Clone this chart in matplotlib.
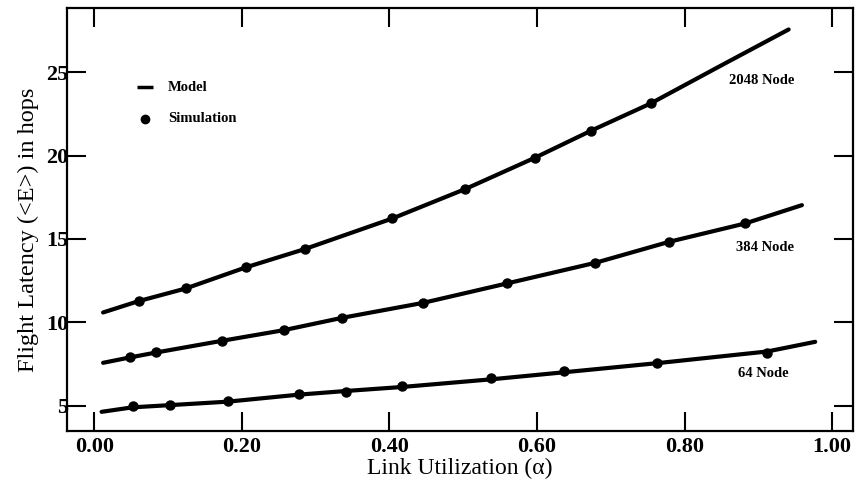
import numpy as np
import matplotlib
matplotlib.use('Agg')
import matplotlib.pyplot as plt

plt.rcParams['font.family'] = ['Liberation Serif', 'DejaVu Serif']

# Simulation results (link utilization, flight latency in hops)
sim_2048_x = [0.060, 0.124, 0.205, 0.285, 0.404, 0.503, 0.597, 0.673, 0.754]
sim_2048_y = [11.27, 12.03, 13.29, 14.39, 16.23, 18.00, 19.87, 21.49, 23.13]
sim_384_x = [0.048, 0.084, 0.173, 0.257, 0.336, 0.446, 0.559, 0.679, 0.779, 0.882]
sim_384_y = [7.89, 8.19, 8.89, 9.53, 10.27, 11.17, 12.33, 13.57, 14.83, 15.93]
sim_64_x = [0.052, 0.102, 0.181, 0.277, 0.341, 0.417, 0.538, 0.636, 0.763, 0.912]
sim_64_y = [4.99, 5.01, 5.29, 5.69, 5.83, 6.17, 6.63, 7.07, 7.53, 8.17]

# Analytical model curves
model_2048_x = [0.012, 0.060, 0.124, 0.205, 0.285, 0.404, 0.503, 0.597, 0.673, 0.754, 0.850, 0.941]
model_2048_y = [10.59, 11.27, 12.03, 13.29, 14.39, 16.23, 18.00, 19.87, 21.49, 23.13, 25.42, 27.57]
model_384_x = [0.012, 0.048, 0.084, 0.173, 0.257, 0.336, 0.446, 0.559, 0.679, 0.779, 0.882, 0.959]
model_384_y = [7.57, 7.89, 8.19, 8.89, 9.53, 10.27, 11.17, 12.33, 13.57, 14.83, 15.93, 17.03]
model_64_x = [0.010, 0.052, 0.102, 0.181, 0.277, 0.341, 0.417, 0.538, 0.636, 0.763, 0.912, 0.977]
model_64_y = [4.63, 4.90, 5.03, 5.24, 5.66, 5.88, 6.12, 6.58, 7.00, 7.55, 8.25, 8.83]

curve_labels = ['2048 Node', '384 Node', '64 Node']
label_x = [0.904, 0.909, 0.907]
label_y = [24.5, 14.5, 6.95]

x_ticks = [0.0, 0.2, 0.4, 0.6, 0.8, 1.0]
x_tick_labels = ['0.00', '0.20', '0.40', '0.60', '0.80', '1.00']
y_ticks = [5, 10, 15, 20, 25]

fig = plt.figure(figsize=(8.58, 4.87), dpi=100)
ax = fig.add_axes([0.078, 0.115, 0.916, 0.869])

for mx, my in [(model_2048_x, model_2048_y), (model_384_x, model_384_y), (model_64_x, model_64_y)]:
    ax.plot(mx, my, color='black', lw=3.0, solid_capstyle='round', solid_joinstyle='round')
for sx, sy in [(sim_2048_x, sim_2048_y), (sim_384_x, sim_384_y), (sim_64_x, sim_64_y)]:
    ax.plot(sx, sy, 'o', color='black', ms=6.5)

for name, lx, ly in zip(curve_labels, label_x, label_y):
    ax.text(lx, ly, name, fontsize=10.5, fontweight='bold', ha='center', va='center')

# legend drawn by hand
ax.plot([0.058, 0.080], [24.1, 24.1], color='black', lw=2.5, solid_capstyle='butt')
ax.plot([0.069], [22.2], 'o', color='black', ms=6)
ax.text(0.100, 24.1, 'Model', fontsize=10.5, fontweight='bold', va='center')
ax.text(0.100, 22.2, 'Simulation', fontsize=10.5, fontweight='bold', va='center')

ax.set_xlim(-0.037, 1.028)
ax.set_ylim(3.48, 28.87)
ax.set_xticks(x_ticks)
ax.set_xticklabels(x_tick_labels)
ax.set_yticks(y_ticks)

ax.tick_params(direction='in', length=13.5, width=1.5, top=True, right=True,
               labelsize=16, pad=4)
ax.tick_params(axis='y', pad=-1)
for lab in ax.get_xticklabels() + ax.get_yticklabels():
    lab.set_fontweight('bold')
for sp in ax.spines.values():
    sp.set_linewidth(1.6)

ax.set_xlabel('Link Utilization (\u03b1)', fontsize=17, labelpad=1)
ax.set_ylabel('Flight Latency (<E>) in hops', fontsize=17.5)
ax.yaxis.set_label_coords(-0.036, 0.475)

fig.savefig('out.png', dpi=100, facecolor='white')
